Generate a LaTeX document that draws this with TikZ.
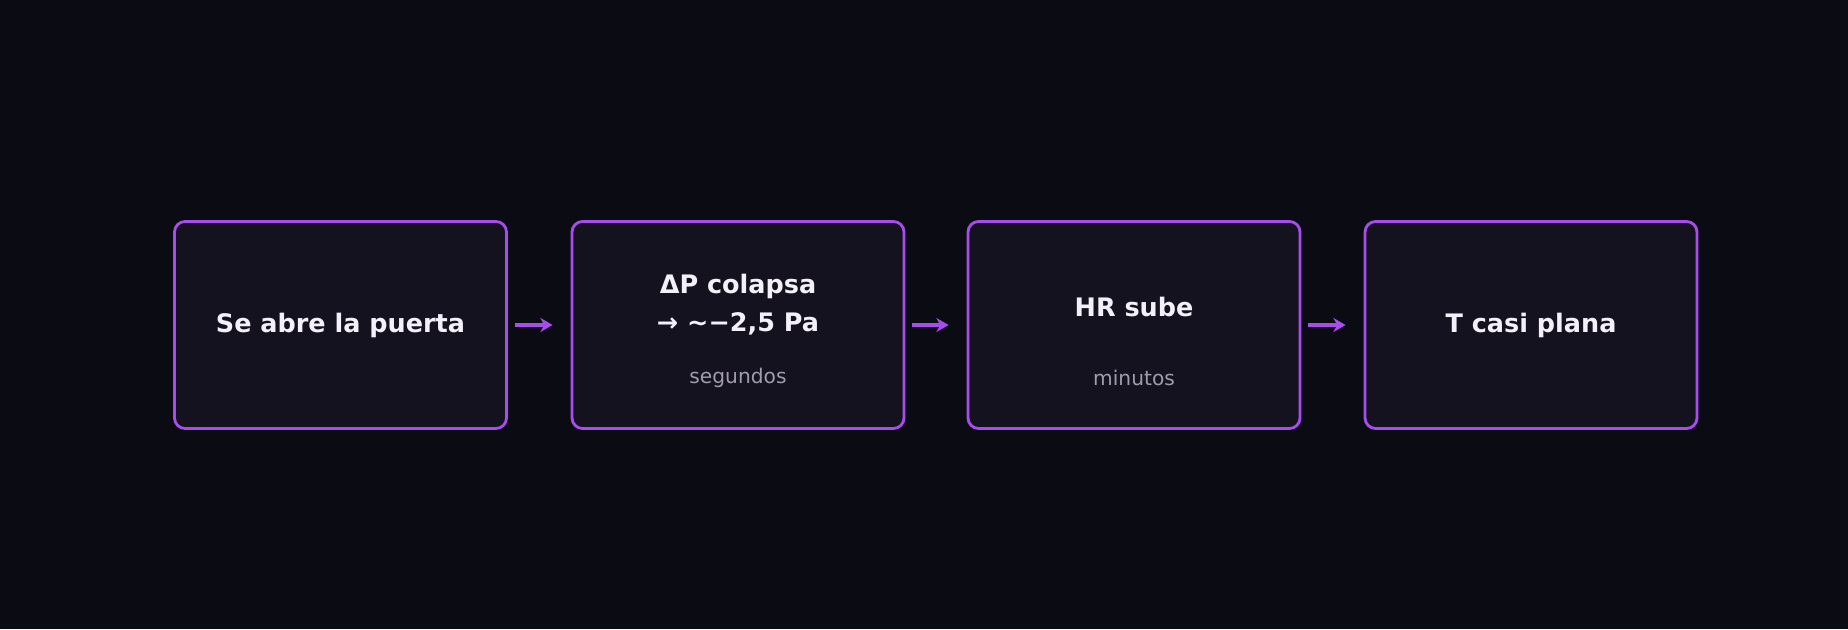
\documentclass[tikz,border=0pt]{standalone}
\usepackage{fontspec}
\setmainfont{DejaVu Sans}
\usetikzlibrary{arrows.meta, positioning}
\definecolor{bgdark}{HTML}{0B0B14}
\definecolor{boxfill}{HTML}{15121F}
\definecolor{violet}{HTML}{A64DEB}
\definecolor{title}{HTML}{F4F0FA}
\definecolor{subtle}{HTML}{A09CAE}

\begin{document}
\begin{tikzpicture}[
    stage/.style={draw=violet, line width=1.6pt, fill=boxfill, rounded corners=6pt,
        minimum width=6.64cm, minimum height=4.14cm},
    head/.style={text=title, font=\fontsize{14.5}{17}\selectfont\bfseries},
    note/.style={text=subtle, font=\fontsize{11.5}{14}\selectfont},
    flow/.style={-{Stealth[length=7pt, width=8pt]}, violet, line width=2.2pt,
        shorten <=0.14cm, shorten >=0.36cm}
]
    % background
    \fill[bgdark] (0,0) rectangle (36.96,12.58);
    \useasboundingbox (0,0) rectangle (36.96,12.58);

    % the four stages
    \node[stage] (door) at (6.81,6.08) {};
    \node[stage] (dp) at (14.76,6.08) {};
    \node[stage] (hr) at (22.68,6.08) {};
    \node[stage] (temp) at (30.62,6.08) {};

    % texts
    \node[head] (doort) at (door) {Se abre la puerta};
    \node[head] (dpa) at ([yshift=0.78cm]dp.center) {ΔP colapsa};
    \node[head] (dpb) at ([yshift=0.02cm]dp.center) {→ \textasciitilde−2,5 Pa};
    \node[note] (dps) at ([yshift=-1.06cm]dp.center) {segundos};
    \node[head] (hra) at ([yshift=0.35cm]hr.center) {HR sube};
    \node[note] (hrs) at ([yshift=-1.06cm]hr.center) {minutos};
    \node[head] (tempt) at (temp) {T casi plana};

    % arrows
    \foreach \s/\t in {door/dp, dp/hr, hr/temp} {
        \draw[flow] (\s.east) -- (\t.west);
    }
\end{tikzpicture}
\end{document}
